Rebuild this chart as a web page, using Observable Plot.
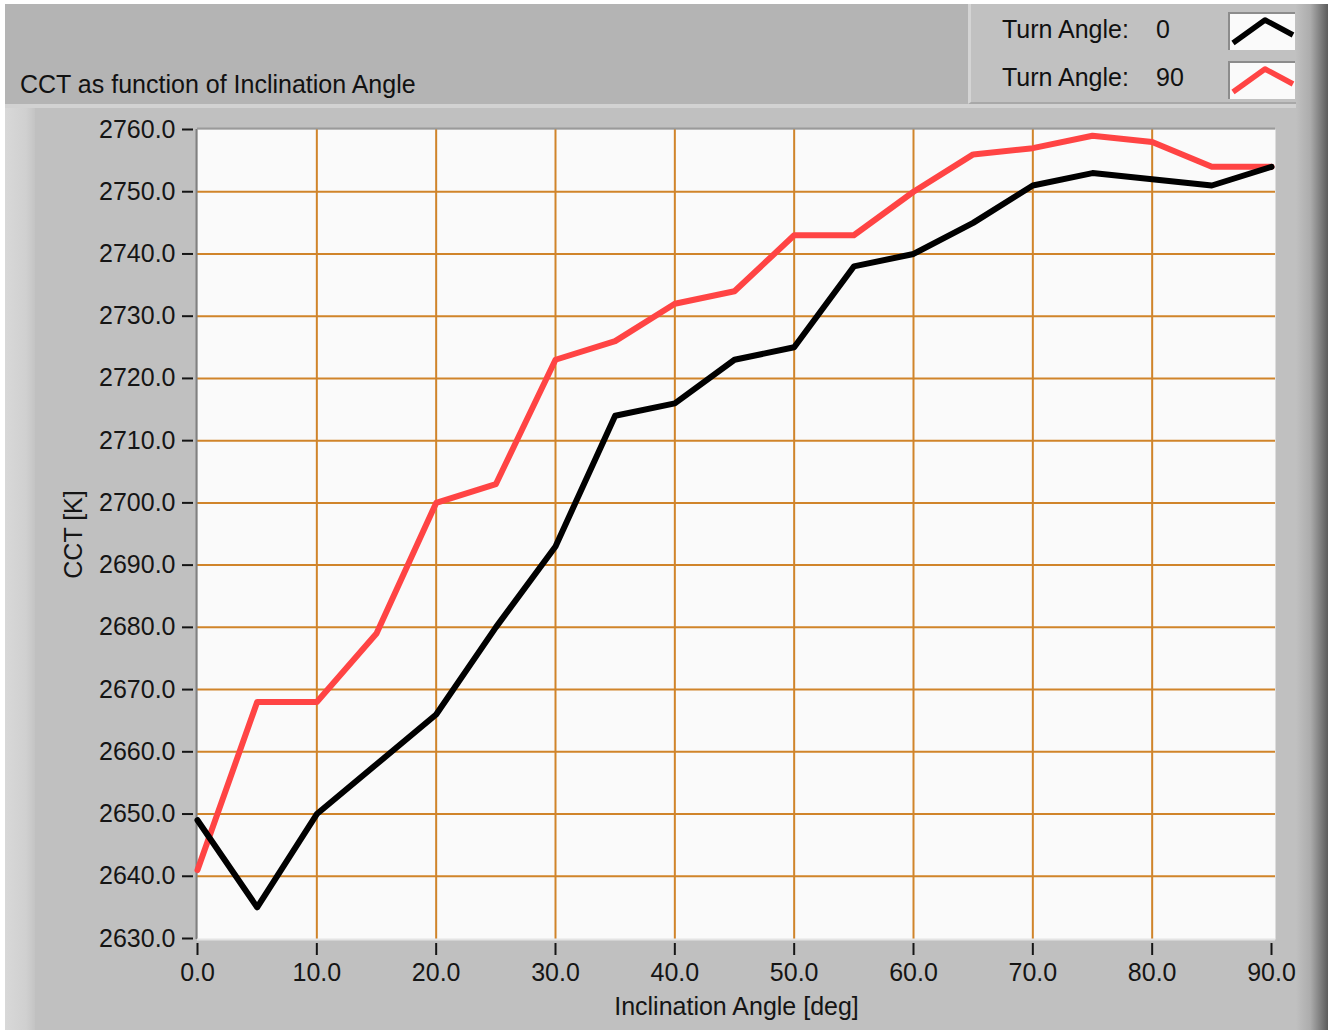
<!DOCTYPE html>
<html><head><meta charset="utf-8">
<script src="https://cdn.jsdelivr.net/npm/d3@7"></script>
<script src="https://cdn.jsdelivr.net/npm/@observablehq/plot@0.6"></script>
<style>
html,body{margin:0;padding:0;background:#fff;}
#root{position:relative;width:1328px;height:1030px;overflow:hidden;font-family:"Liberation Sans",Arial,sans-serif;color:#111;}
.abs{position:absolute;}
.ltxt{position:absolute;font-size:25px;line-height:30px;white-space:nowrap;}
.sw{position:absolute;width:67px;height:38px;background:#fafafa;border-top:2px solid #8c8c8c;border-left:2px solid #8c8c8c;box-sizing:border-box;}
</style></head><body>
<div id="root">
 <div class="abs" style="left:5px;top:4px;width:963px;height:100px;background:#b4b4b4;"></div>
 <div class="abs" style="left:968px;top:4px;width:360px;height:100px;background:#c1c1c1;border-left:3px solid #d4d4d4;border-bottom:2px solid #a8a8a8;box-sizing:border-box;"></div>
 <div class="abs" style="left:5px;top:104px;width:1323px;height:926px;background:#c0c0c0;border-top:4px solid #d2d2d2;box-sizing:border-box;"></div>
 <div class="abs" style="left:5px;top:108px;width:30px;height:922px;background:linear-gradient(to right,#d8d8d8,#d0d0d0 70%,#c4c4c4);"></div>
 <div class="abs" style="left:1296px;top:4px;width:32px;height:1026px;background:linear-gradient(to right,#c0c0c0,#acacac 45%,#5c5c5c);"></div>
 <div id="title" class="ltxt" style="left:20px;top:69px;"></div>
 <div id="legend"></div>
 <div id="chart" class="abs" style="left:0;top:104px;"></div>
</div>
<script>
const chartTitle = "CCT as function of Inclination Angle";
const xLabel = "Inclination Angle [deg]";
const yLabel = "CCT [K]";
const angles = [0, 5, 10, 15, 20, 25, 30, 35, 40, 45, 50, 55, 60, 65, 70, 75, 80, 85, 90];
const cctTurn0 = [2649, 2635, 2650, 2658, 2666, 2680, 2693, 2714, 2716, 2723, 2725, 2738, 2740, 2745, 2751, 2753, 2752, 2751, 2754];
const cctTurn90 = [2641, 2668, 2668, 2679, 2700, 2703, 2723, 2726, 2732, 2734, 2743, 2743, 2750, 2756, 2757, 2759, 2758, 2754, 2754];
const seriesLabels = ["Turn Angle:", "Turn Angle:"];
const seriesValues = ["0", "90"];
const seriesColors = ["#000000", "#ff4444"];
const xTicks = [0, 10, 20, 30, 40, 50, 60, 70, 80, 90];
const yTicks = [2630, 2640, 2650, 2660, 2670, 2680, 2690, 2700, 2710, 2720, 2730, 2740, 2750, 2760];

document.getElementById("title").textContent = chartTitle;

// legend
const leg = document.getElementById("legend");
seriesLabels.forEach((lab, i) => {
  const top = 14 + i * 48;
  const a = document.createElement("div"); a.className = "ltxt"; a.style.left = "1002px"; a.style.top = top + "px"; a.textContent = lab; leg.appendChild(a);
  const b = document.createElement("div"); b.className = "ltxt"; b.style.left = "1156px"; b.style.top = top + "px"; b.textContent = seriesValues[i]; leg.appendChild(b);
  const s = document.createElement("div"); s.className = "sw"; s.style.left = "1228px"; s.style.top = (12 + i * 49) + "px";
  s.innerHTML = `<svg width="65" height="36" style="position:absolute;left:0;top:0"><polyline points="3,29 35,6 63,21" fill="none" stroke="${seriesColors[i]}" stroke-width="5.5" stroke-linejoin="round"/></svg>`;
  leg.appendChild(s);
});

const rows0 = angles.map((a, i) => ({angle: a, cct: cctTurn0[i]}));
const rows90 = angles.map((a, i) => ({angle: a, cct: cctTurn90[i]}));
const gridXVals = xTicks.slice(1, -1);
const gridYVals = yTicks.slice(1, -1);
const grid = "#d0842a";

const plot = Plot.plot({
  width: 1328, height: 926,
  marginLeft: 197, marginRight: 53, marginTop: 25, marginBottom: 91,
  insetRight: 4, insetBottom: 1,
  x: {domain: [0, 90]},
  y: {domain: [2630, 2760]},
  style: {background: "transparent", fontFamily: "'Liberation Sans', Arial, sans-serif", fontSize: "25px", color: "#151515", overflow: "visible"},
  marks: [
    Plot.frame({fill: "#fafafa", stroke: "none"}),
    Plot.gridX(gridXVals, {stroke: grid, strokeOpacity: 1, strokeWidth: 2}),
    Plot.gridY(gridYVals, {stroke: grid, strokeOpacity: 1, strokeWidth: 2}),
    Plot.ruleX([0], {stroke: "#808080", strokeWidth: 2, dx: -1}),
    Plot.ruleY([2760], {stroke: "#9a9a9a", strokeWidth: 2, dy: -1}),
    Plot.ruleY([2630], {stroke: "#e4e4e4", strokeWidth: 2, dy: 1}),
    Plot.axisY(yTicks, {tickFormat: d3.format(".1f"), tickSize: 11, tickPadding: 7, dx: -4, strokeWidth: 2, label: null}),
    Plot.axisX(xTicks, {tickFormat: d3.format(".1f"), tickSize: 12, tickPadding: 8, dy: 4, strokeWidth: 2, label: null}),
    Plot.text([xLabel], {text: d => d, frameAnchor: "bottom", dy: 67, lineAnchor: "middle"}),
    Plot.text([yLabel], {text: d => d, frameAnchor: "left", dx: -124, rotate: -90, textAnchor: "middle", lineAnchor: "middle"}),
    Plot.line(rows90, {x: "angle", y: "cct", stroke: seriesColors[1], strokeWidth: 6}),
    Plot.line(rows0, {x: "angle", y: "cct", stroke: seriesColors[0], strokeWidth: 6})
  ]
});
document.getElementById("chart").appendChild(plot);
</script>
</body></html>
